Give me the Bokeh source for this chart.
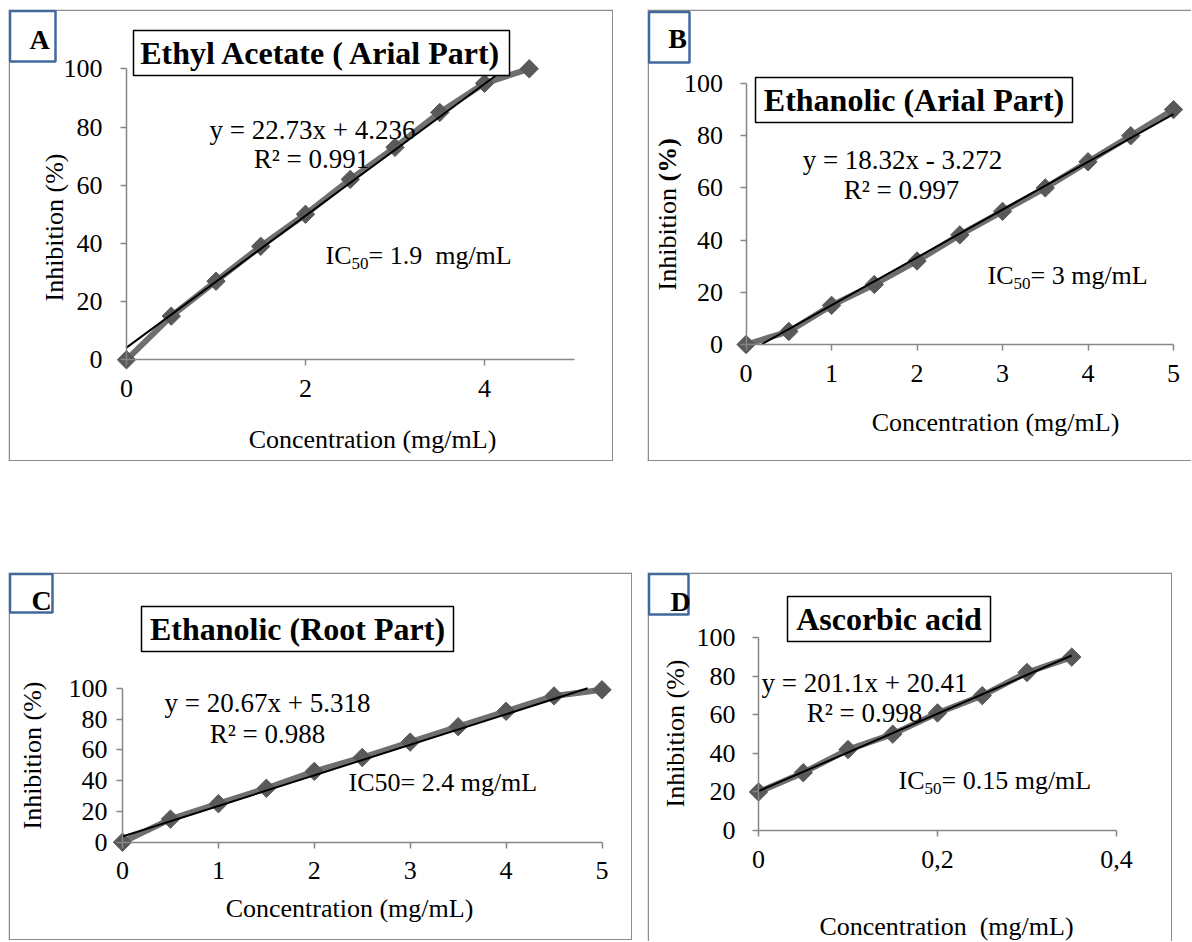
import numpy as np
from bokeh.plotting import figure
from bokeh.models import (Range1d, FixedTicker, Label, BoxAnnotation, Span, Spacer,
                          CustomJSTickFormatter)
from bokeh.layouts import row, column
from bokeh.embed import file_html
from bokeh.resources import INLINE

# ---------------- data ----------------
conc_a = [0, 0.5, 1, 1.5, 2, 2.5, 3, 3.5, 4, 4.5]
inhib_a = [0, 15, 27, 39, 50, 62, 73, 85, 95, 100]
trend_x_a = [0, 4.23]
trend_y_a = [4.2, 100]
xticks_a = [0, 2, 4]

conc_b = [0, 0.5, 1, 1.5, 2, 2.5, 3, 3.5, 4, 4.5, 5]
inhib_b = [0, 5, 15, 23, 32, 42, 51, 60, 70, 80, 90]
trend_x_b = [0.18, 5]
trend_y_b = [0, 88.3]
xticks_b = [0, 1, 2, 3, 4, 5]

conc_c = [0, 0.5, 1, 1.5, 2, 2.5, 3, 3.5, 4, 4.5, 5]
inhib_c = [0, 15, 25, 35, 46, 55, 65, 75, 85, 95, 99]
trend_x_c = [0, 4.85]
trend_y_c = [3.7, 100]
xticks_c = [0, 1, 2, 3, 4, 5]

conc_d = [0, 0.05, 0.1, 0.15, 0.2, 0.25, 0.3, 0.35]
inhib_d = [20, 30, 42, 50, 61, 70, 82, 90]
trend_x_d = [0, 0.35]
trend_y_d = [20.4, 90.8]
xticks_d = [0, 0.2, 0.4]

yticks = [0, 20, 40, 60, 80, 100]

SERIF = "'Liberation Serif', 'Times New Roman', serif"
AXIS_GRAY = "#868686"
BORDER_GRAY = "#8c8c8c"
LETTER_BLUE = "#41699c"


def make_panel(left, top, w, h, xcal, ycal, xmax, xticks, ystand, borders, comma=False):
    px0, v0, px1, v1 = xcal
    kx = (px1 - px0) / (v1 - v0)
    py0, u0, py1, u1 = ycal
    ky = (py1 - py0) / (u1 - u0)
    xs = v0 + (left - px0) / kx
    xe = v0 + (left + w - px0) / kx
    ys = u0 + (top + h - py0) / ky
    ye = u0 + (top - py0) / ky

    def fx(px):
        return v0 + (px - px0) / kx

    def fy(py):
        return u0 + (py - py0) / ky

    p = figure(width=w, height=h, x_range=Range1d(xs, xe), y_range=Range1d(ys, ye),
               output_backend="svg", toolbar_location=None, tools="", min_border=0)
    p.outline_line_color = None
    p.grid.visible = False
    p.background_fill_color = "white"
    p.border_fill_color = "white"

    for ax, b, ticks in ((p.xaxis[0], (0, xmax), xticks), (p.yaxis[0], (0, 100), yticks)):
        ax.fixed_location = 0
        ax.bounds = b
        ax.ticker = FixedTicker(ticks=ticks)
        ax.axis_line_color = AXIS_GRAY
        ax.axis_line_width = 1.5
        ax.major_tick_line_color = AXIS_GRAY
        ax.major_tick_line_width = 1.5
        ax.major_tick_in = 0
        ax.major_tick_out = 6
        ax.minor_tick_in = 0
        ax.minor_tick_out = 0
        ax.major_label_text_font = SERIF
        ax.major_label_text_font_size = "26px"
        ax.major_label_text_color = "black"
    p.xaxis[0].major_label_standoff = 14
    p.yaxis[0].major_label_standoff = ystand
    if comma:
        p.xaxis[0].formatter = CustomJSTickFormatter(code="return tick.toString().replace('.', ',');")

    # panel border
    if "l" in borders:
        p.add_layout(Span(location=fx(left + 0.75), dimension="height",
                          line_color=BORDER_GRAY, line_width=1.5))
    if "r" in borders:
        p.add_layout(Span(location=fx(left + w - 0.75), dimension="height",
                          line_color=BORDER_GRAY, line_width=1.5))
    if "t" in borders:
        p.add_layout(Span(location=fy(top + 0.75), dimension="width",
                          line_color=BORDER_GRAY, line_width=1.5))
    if "b" in borders:
        p.add_layout(Span(location=fy(top + h - 0.75), dimension="width",
                          line_color=BORDER_GRAY, line_width=1.5))
    return p, fx, fy


def text(p, fx, fy, px, py, s, size=26, bold=False, align="center", angle=0.0):
    p.add_layout(Label(x=fx(px), y=fy(py), text=s, text_font=SERIF,
                       text_font_size=f"{size}px",
                       text_font_style="bold" if bold else "normal",
                       text_align=align, text_baseline="middle", angle=angle,
                       text_color="black"))


def box(p, fx, fy, l, r, t, b, color, width):
    p.add_layout(BoxAnnotation(left=fx(l), right=fx(r), top=fy(t), bottom=fy(b),
                               fill_color="white", fill_alpha=1.0,
                               line_color=color, line_width=width, line_alpha=1.0))


def series(p, xs, ys, tx, ty):
    p.line(xs, ys, line_color="#6f6f6f", line_width=6)
    p.scatter(xs, ys, marker="square", size=13, angle=np.pi / 4,
              fill_color="#595959", line_color="#595959")
    p.line(tx, ty, line_color="black", line_width=2)


def ic50(p, fx, fy, px, py, rest):
    text(p, fx, fy, px, py, "IC", align="left")
    text(p, fx, fy, px + 26, py + 8, "50", size=17, align="left")
    text(p, fx, fy, px + 43, py, rest, align="left")


# ---------------- panel A ----------------
pa, fx, fy = make_panel(8, 9, 605, 452, (126, 0, 484, 4), (359.3, 0, 68.3, 100),
                        5, xticks_a, 18, "lrtb")
series(pa, conc_a, inhib_a, trend_x_a, trend_y_a)
box(pa, fx, fy, 133, 509, 30, 75, "black", 1.5)
text(pa, fx, fy, 321, 52.5, "Ethyl Acetate ( Arial Part)", size=32, bold=True)
box(pa, fx, fy, 9.5, 55, 10.5, 61, LETTER_BLUE, 2.5)
text(pa, fx, fy, 39, 39, "A", size=28, bold=True)
text(pa, fx, fy, 312, 129, "y = 22.73x + 4.236", size=27)
text(pa, fx, fy, 311, 158, "R\u00b2 = 0.991", size=27)
ic50(pa, fx, fy, 325, 255, "= 1.9 \u00a0mg/mL")
text(pa, fx, fy, 54, 227, "Inhibition (%)", angle=np.pi / 2)
text(pa, fx, fy, 372, 439, "Concentration (mg/mL)")

# ---------------- panel B ----------------
pb, fx, fy = make_panel(647, 9, 544, 452, (745.6, 0, 1173, 5), (344, 0, 83, 100),
                        5, xticks_b, 17, "ltb")
series(pb, conc_b, inhib_b, trend_x_b, trend_y_b)
box(pb, fx, fy, 755, 1072, 77, 122, "black", 1.5)
text(pb, fx, fy, 913.5, 99.5, "Ethanolic (Arial Part)", size=32, bold=True)
box(pb, fx, fy, 648.5, 689, 11.5, 62, LETTER_BLUE, 2.5)
text(pb, fx, fy, 677, 38, "B", size=28, bold=True)
text(pb, fx, fy, 902, 159, "y = 18.32x - 3.272", size=27)
text(pb, fx, fy, 901, 189, "R\u00b2 = 0.997", size=27)
ic50(pb, fx, fy, 987, 275, "= 3 mg/mL")
text(pb, fx, fy, 667, 290, "Inhibition ", align="left", angle=np.pi / 2)
text(pb, fx, fy, 667, 181, "(%)", bold=True, align="left", angle=np.pi / 2)
text(pb, fx, fy, 995, 422, "Concentration (mg/mL)")

# ---------------- panel C ----------------
pc, fx, fy = make_panel(8, 572, 624, 368, (122, 0, 601.5, 5), (841.7, 0, 687.7, 100),
                        5, xticks_c, 9, "lrtb")
series(pc, conc_c, inhib_c, trend_x_c, trend_y_c)
box(pc, fx, fy, 141, 453, 606, 651, "black", 1.5)
text(pc, fx, fy, 297, 628.5, "Ethanolic (Root Part)", size=32, bold=True)
box(pc, fx, fy, 9.5, 52, 573.5, 612, LETTER_BLUE, 2.5)
text(pc, fx, fy, 41, 600, "C", size=28, bold=True)
text(pc, fx, fy, 267, 702, "y = 20.67x + 5.318", size=27)
text(pc, fx, fy, 267, 733, "R\u00b2 = 0.988", size=27)
text(pc, fx, fy, 348, 782, "IC50= 2.4 mg/mL", align="left")
text(pc, fx, fy, 32, 755, "Inhibition (%)", angle=np.pi / 2)
text(pc, fx, fy, 349, 908, "Concentration (mg/mL)")

# ---------------- panel D ----------------
pd, fx, fy = make_panel(647, 572, 525, 369, (758, 0, 1116, 0.4), (830, 0, 637.3, 100),
                        0.4, xticks_d, 17, "lrt", comma=True)
series(pd, conc_d, inhib_d, trend_x_d, trend_y_d)
box(pd, fx, fy, 787, 990, 596, 641, "black", 1.5)
text(pd, fx, fy, 888.5, 618.5, "Ascorbic acid", size=32, bold=True)
box(pd, fx, fy, 648.5, 688, 573.5, 614, LETTER_BLUE, 2.5)
text(pd, fx, fy, 680, 601, "D", size=28, bold=True)
text(pd, fx, fy, 864, 682, "y = 201.1x + 20.41", size=27)
text(pd, fx, fy, 864, 712, "R\u00b2 = 0.998", size=27)
ic50(pd, fx, fy, 898, 780, "= 0.15 mg/mL")
text(pd, fx, fy, 675, 733, "Inhibition (%)", angle=np.pi / 2)
text(pd, fx, fy, 946, 926, "Concentration \u00a0(mg/mL)")

layout = column(
    Spacer(width=10, height=9),
    row(Spacer(width=8, height=10), pa, Spacer(width=34, height=10), pb),
    Spacer(width=10, height=111),
    row(Spacer(width=8, height=10), pc, Spacer(width=15, height=10), pd),
)

open("out.html", "w").write(file_html(layout, INLINE))
